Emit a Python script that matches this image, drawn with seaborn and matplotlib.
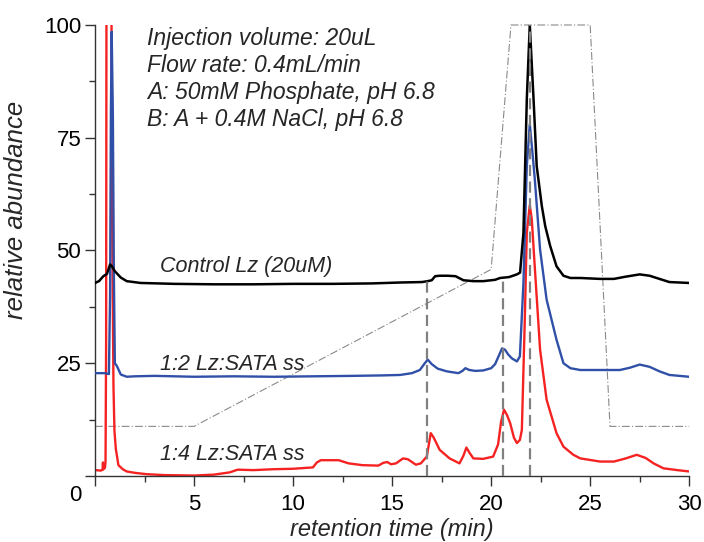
import numpy as np
import pandas as pd
import matplotlib
matplotlib.use("Agg")
import matplotlib.pyplot as plt
import seaborn as sns
from matplotlib.ticker import MultipleLocator
from matplotlib.transforms import ScaledTranslation

# ---------------- data ----------------
control_t = [0, 0.2, 0.42, 0.6, 0.76, 0.85, 1.0, 1.3, 1.6, 2.3, 4, 6, 8, 10, 12, 14,
             15.4, 16.5, 16.8, 17.0, 17.17, 17.4, 17.8, 18.2, 18.6, 19.1, 19.6, 20.2,
             20.45, 20.9, 21.3, 21.46, 21.63, 21.8, 21.95, 22.14, 22.3, 22.56, 22.73,
             22.98, 23.3, 23.65, 24.0, 24.5, 25.5, 26.2, 26.8, 27.5, 28.0, 28.5, 29.0,
             29.5, 30]
control_y = [42.8, 43.2, 44.3, 44.8, 46.9, 46.5, 45.4, 44.0, 43.2, 42.8, 42.6, 42.5,
             42.5, 42.6, 42.6, 42.7, 42.9, 43.0, 43.2, 43.4, 44.3, 44.4, 44.4, 44.3,
             43.4, 43.2, 43.2, 43.5, 43.9, 44.1, 44.7, 45.1, 53.9, 83.6, 100, 83.6,
             68.7, 59.8, 55.4, 51.0, 46.5, 44.4, 43.9, 43.9, 43.7, 43.7, 44.2, 44.7,
             44.4, 43.7, 43.0, 42.9, 42.8]

ss12_t = [0, 0.5, 0.7, 0.76, 0.8, 0.84, 0.9, 0.95, 1.0, 1.1, 1.3, 1.6, 2.0, 3, 5, 7,
          9, 11, 13, 14.5, 15.4, 16.0, 16.4, 16.65, 16.8, 17.0, 17.3, 17.76, 18.35,
          18.55, 18.7, 18.9, 19.2, 19.6, 20.0, 20.2, 20.37, 20.55, 20.7, 20.85, 21.04,
          21.3, 21.45, 21.63, 21.8, 21.95, 22.1, 22.2, 22.47, 22.8, 23.3, 23.65, 24.0,
          24.5, 25.5, 26.5, 27.0, 27.5, 28.0, 28.5, 29.0, 30]
ss12_y = [22.8, 22.8, 22.6, 40, 80, 98.5, 80, 45, 25.0, 24.4, 22.5, 22.0, 22.1, 22.2,
          22.0, 22.1, 22.0, 22.1, 22.2, 22.3, 22.4, 22.8, 23.5, 25.0, 25.8, 24.8, 23.8,
          23.2, 22.8, 23.3, 23.9, 23.5, 23.3, 23.4, 23.9, 24.8, 26.5, 28.3, 28.0, 27.0,
          26.1, 25.4, 26.5, 42.8, 68.7, 78, 71, 66, 50.2, 39.1, 30.2, 25.0, 23.9, 23.5,
          23.5, 23.5, 24.0, 24.7, 24.2, 23.2, 22.4, 22.0]

ss14_t = [0, 0.3, 0.38, 0.4, 0.42, 0.5, 0.53, 0.56, 0.58, 0.82, 0.86, 0.93, 0.98, 1.05,
          1.18, 1.4, 1.6, 2.0, 2.6, 3.5, 5.0, 6.0, 6.8, 7.2, 8.0, 9.0, 10.0, 11.0, 11.2,
          11.4, 12.3, 12.8, 13.5, 14.3, 14.55, 14.75, 14.95, 15.2, 15.55, 15.8, 16.2,
          16.45, 16.75, 16.95, 17.1, 17.4, 17.9, 18.4, 18.6, 18.75, 18.9, 19.1, 19.6,
          20.1, 20.35, 20.5, 20.65, 20.8, 20.96, 21.15, 21.3, 21.45, 21.55, 21.7, 21.8,
          21.95, 22.05, 22.2, 22.47, 22.8, 23.3, 23.65, 24.15, 24.5, 25.5, 26.2, 26.8,
          27.35, 27.8, 28.2, 28.7, 29.4, 30]
ss14_y = [1.3, 1.2, 1.4, 3.0, 1.5, 1.8, 3.2, 30, 120, 120, 60, 20, 10, 6, 2.4, 1.5,
          1.0, 0.7, 0.4, 0.2, 0.1, 0.3, 0.8, 1.4, 1.3, 1.5, 1.6, 1.9, 3.0, 3.5, 3.5,
          2.8, 2.4, 2.3, 2.9, 3.1, 2.6, 2.8, 3.9, 3.7, 2.5, 2.8, 4.3, 9.5, 8.5, 5.8,
          3.9, 2.8, 4.5, 6.3, 5.2, 3.9, 3.8, 4.3, 7.0, 12.0, 14.7, 13.5, 11.7, 8.5,
          7.3, 8.0, 10.2, 35, 54, 60, 57, 46.5, 28, 16.9, 9.5, 6.5, 4.7, 3.9, 3.2,
          3.2, 3.9, 4.7, 4.0, 2.8, 1.7, 1.3, 1.0]

gradient_t = [0, 5, 20, 21, 25, 26, 30]
gradient_y = [11, 11, 45.8, 100, 100, 11, 11]

marker_times = [16.75, 20.6, 21.95]

trace_labels = ["Control Lz (20uM)", "1:2 Lz:SATA ss", "1:4 Lz:SATA ss"]
notes = ["Injection volume: 20uL", "Flow rate: 0.4mL/min",
         "A: 50mM Phosphate, pH 6.8", "B: A + 0.4M NaCl, pH 6.8"]
x_ticks = [0, 5, 10, 15, 20, 25, 30]
x_ticklabels = ["", "5", "10", "15", "20", "25", "30"]
y_ticks = [0, 25, 50, 75, 100]
y_ticklabels = ["0", "25", "50", "75", "100"]

# ---------------- figure ----------------
sns.set_theme(style="ticks")
plt.rcParams["font.family"] = ["Liberation Sans", "DejaVu Sans"]

fig = plt.figure(figsize=(7.04, 5.42), dpi=100)
ax = fig.add_axes([0.135, 0.1218, 0.844, 0.8321])

grad_df = pd.DataFrame({"t": gradient_t, "y": gradient_y})
sns.lineplot(data=grad_df, x="t", y="y", ax=ax, color="#8a8a8a", lw=0.8,
             linestyle=(0, (7, 2, 1, 2)), estimator=None, clip_on=False, zorder=1)

red_df = pd.DataFrame({"t": ss14_t, "y": ss14_y})
blue_df = pd.DataFrame({"t": ss12_t, "y": ss12_y})
black_df = pd.DataFrame({"t": control_t, "y": control_y})
sns.lineplot(data=red_df, x="t", y="y", ax=ax, color="#f52222", lw=1.7,
             estimator=None, zorder=2)
sns.lineplot(data=blue_df, x="t", y="y", ax=ax, color="#3050a8", lw=1.7,
             estimator=None, zorder=3)
sns.lineplot(data=black_df, x="t", y="y", ax=ax, color="black", lw=1.8,
             estimator=None, zorder=4)

tops = np.interp(marker_times, control_t, control_y)
ax.vlines(marker_times, 0, tops, colors="#808080", linestyles=(0, (5, 2.5)),
          lw=1.6, zorder=5)

ax.set_xlim(0, 30)
ax.set_ylim(0, 100)
ax.set_xticks(x_ticks)
ax.set_xticklabels(x_ticklabels)
ax.set_yticks(y_ticks)
ax.set_yticklabels(y_ticklabels)
ax.xaxis.set_minor_locator(MultipleLocator(2.5))
ax.yaxis.set_minor_locator(MultipleLocator(12.5))
ax.tick_params(which="major", length=7, width=1, color="#333333",
               labelsize=16, labelcolor="black")
ax.tick_params(axis="x", which="major", pad=6)
ax.tick_params(axis="y", which="major", pad=3)
ax.tick_params(which="minor", length=4, width=1, color="#333333")
for s in ["top", "right"]:
    ax.spines[s].set_visible(False)
for s in ["left", "bottom"]:
    ax.spines[s].set_color("#333333")
    ax.spines[s].set_linewidth(1)

# move the "0" y label down, as in the reference
zero_lab = ax.get_yticklabels()[0]
zero_lab.set_transform(zero_lab.get_transform() +
                       ScaledTranslation(0, -0.17, fig.dpi_scale_trans))

ax.set_xlabel("retention time (min)", fontsize=17, style="italic", labelpad=2)
ax.set_ylabel("relative abundance", fontsize=18.5, style="italic")
ax.yaxis.set_label_coords(-0.112, 0.59)

note_y = [95.6, 89.6, 83.6, 77.6]
for txt, yy in zip(notes, note_y):
    ax.text(2.63, yy, txt, fontsize=16.5, style="italic", va="baseline", ha="left")

label_y = [45.3, 23.5, 3.55]
for txt, yy in zip(trace_labels, label_y):
    ax.text(3.3, yy, txt, fontsize=15.5, style="italic", va="baseline", ha="left",
            zorder=6)

fig.savefig("out.png", dpi=100)
